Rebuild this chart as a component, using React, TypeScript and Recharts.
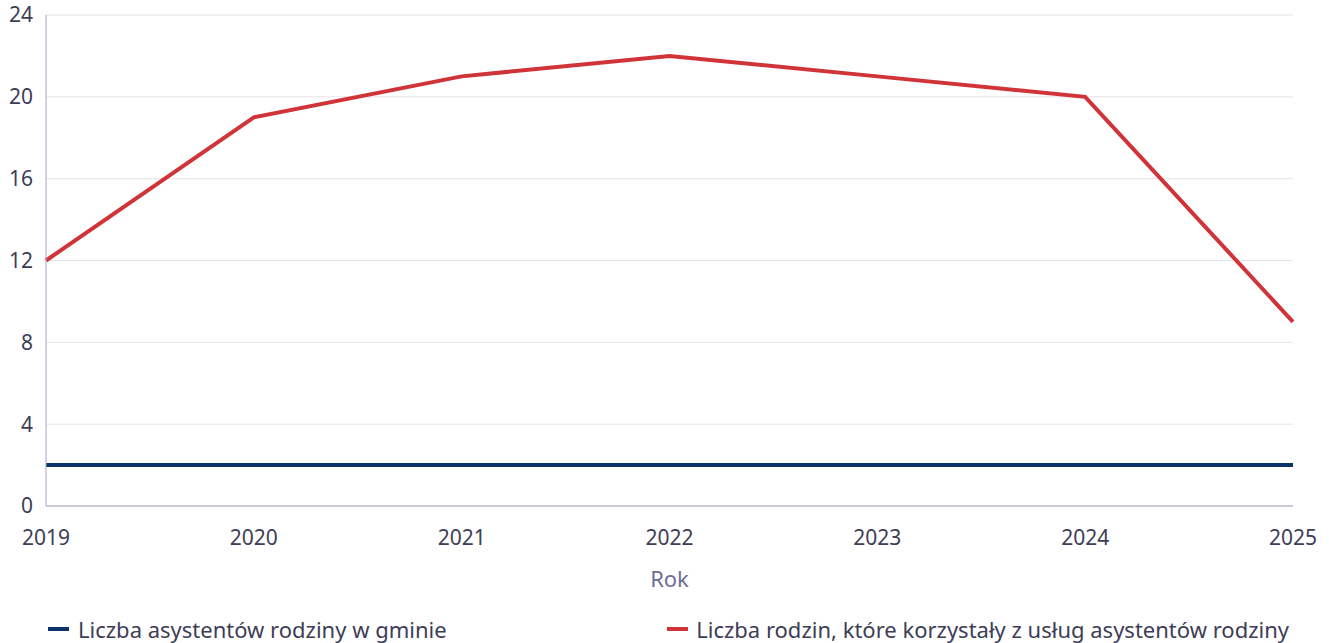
import React from 'react';
import { LineChart, Line, XAxis, YAxis, CartesianGrid, Legend } from 'recharts';

const years = ['2019', '2020', '2021', '2022', '2023', '2024', '2025'];
const assistants = [2, 2, 2, 2, 2, 2, 2];
const families = [12, 19, 21, 22, 21, 20, 9];
const yTicks = [0, 4, 8, 12, 16, 20, 24];

const seriesNames = {
  assistants: 'Liczba asystentów rodziny w gminie',
  families: 'Liczba rodzin, które korzystały z usług asystentów rodziny',
};

const data = years.map((y, i) => ({ year: y, assistants: assistants[i], families: families[i] }));

const FONT = '"Noto Sans", "Open Sans", sans-serif';
const TEXT = '#3d3d57';

const LegendContent = () => (
  <div style={{ position: 'relative', top: 8, display: 'flex', justifyContent: 'space-between', fontFamily: FONT, fontSize: 22, color: TEXT, paddingLeft: 48, paddingRight: 4, lineHeight: '30px' }}>
    <div style={{ display: 'flex', alignItems: 'center' }}>
      <span style={{ display: 'inline-block', width: 21, height: 4, background: '#0c3468', marginRight: 9 }} />
      <span>{seriesNames.assistants}</span>
    </div>
    <div style={{ display: 'flex', alignItems: 'center' }}>
      <span style={{ display: 'inline-block', width: 21, height: 4, background: '#d13438', marginRight: 8 }} />
      <span>{seriesNames.families}</span>
    </div>
  </div>
);

export default function App() {
  return (
    <div style={{ position: 'absolute', left: 0, top: 0, width: 1329, height: 643, background: '#fff' }}>
      <LineChart width={1329} height={643} data={data} margin={{ top: 15, right: 36, left: 0, bottom: 0 }}>
        <CartesianGrid horizontal vertical={false} stroke="#e3e3ea" />
        <XAxis
          dataKey="year"
          tickLine={false}
          axisLine={{ stroke: '#a7a5c2' }}
          tick={{ fill: TEXT, fontSize: 21, fontFamily: FONT }}
          tickMargin={18}
          height={100}
          interval={0}
          label={{ value: 'Rok', position: 'insideTop', offset: 65, fill: '#6e6e96', fontSize: 22, fontFamily: FONT }}
        />
        <YAxis
          domain={[0, 24]}
          ticks={yTicks}
          tickLine={false}
          axisLine={{ stroke: '#a7a5c2' }}
          tick={{ fill: TEXT, fontSize: 21, fontFamily: FONT }}
          tickMargin={7}
          width={46}
        />
        <Legend verticalAlign="bottom" height={37} content={<LegendContent />} />
        <Line type="linear" dataKey="assistants" name={seriesNames.assistants} stroke="#0c3468" strokeWidth={4} dot={false} isAnimationActive={false} />
        <Line type="linear" dataKey="families" name={seriesNames.families} stroke="#d13438" strokeWidth={4} dot={false} isAnimationActive={false} />
      </LineChart>
    </div>
  );
}
